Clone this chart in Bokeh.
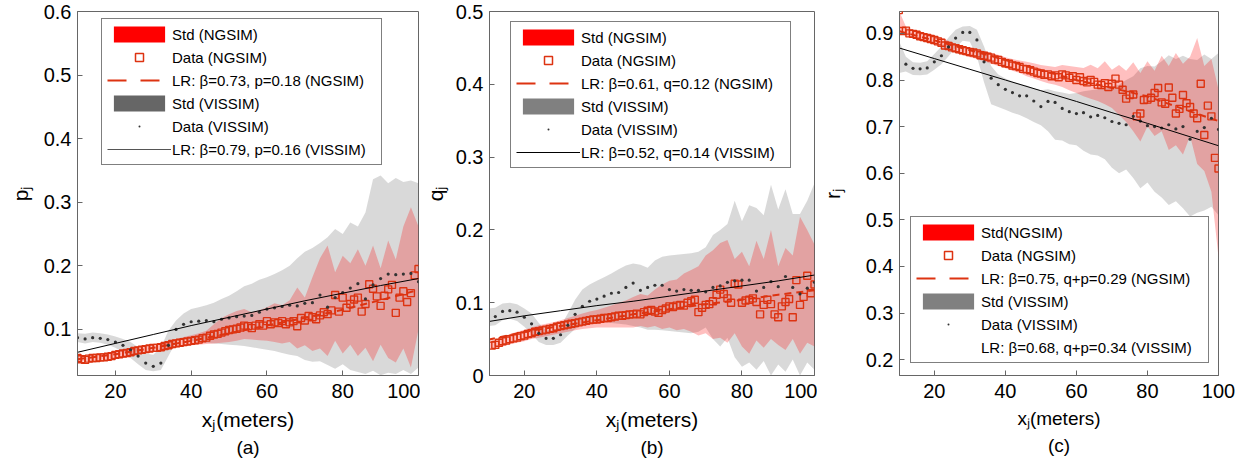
from bokeh.plotting import figure
from bokeh.layouts import row
from bokeh.models import Range1d, LinearAxis, FixedTicker, Legend, LegendItem, Title
from bokeh.embed import file_html
from bokeh.resources import INLINE

FONT = "Liberation Sans"
RED = "#FF0000"
MARK = "#DD3311"
DOT = "#333333"

# ---------------- shared x grids ----------------
X_BAND = list(range(10, 101, 2))          # std bands, 46 points
LR_X = [10, 20, 30, 40, 50, 60, 70, 80, 90, 100]

# ---------------- panel (a): p_j ----------------
X_A = list(range(10, 101))
NGSIM_A = [0.055, 0.053, 0.052, 0.054, 0.055, 0.055, 0.056, 0.056, 0.057, 0.058,
           0.060, 0.061, 0.062, 0.063, 0.064, 0.066, 0.067, 0.068, 0.069, 0.070,
           0.071, 0.071, 0.072, 0.074, 0.075, 0.077, 0.078, 0.079, 0.080, 0.081,
           0.082, 0.083, 0.084, 0.086, 0.087, 0.090, 0.092, 0.093, 0.095, 0.097,
           0.099, 0.100, 0.101, 0.103, 0.106, 0.105, 0.102, 0.106, 0.108, 0.106,
           0.113, 0.108, 0.111, 0.110, 0.113, 0.108, 0.111, 0.113, 0.105, 0.118,
           0.114, 0.121, 0.119, 0.116, 0.122, 0.127, 0.124, 0.130, 0.154, 0.128,
           0.150, 0.134, 0.140, 0.147, 0.150, 0.128, 0.140, 0.171, 0.164, 0.152,
           0.137, 0.153, 0.163, 0.170, 0.126, 0.150, 0.160, 0.143, 0.157, 0.185, 0.195]
NGSIM_LO_A = [0.051, 0.049, 0.051, 0.052, 0.053, 0.055, 0.057, 0.059, 0.061, 0.063,
              0.065, 0.066, 0.068, 0.071, 0.073, 0.075, 0.076, 0.077, 0.078, 0.079,
              0.080, 0.082, 0.085, 0.084, 0.083, 0.082, 0.080, 0.078, 0.080, 0.070,
              0.075, 0.066, 0.070, 0.058, 0.082, 0.062, 0.076, 0.058, 0.071, 0.050,
              0.076, 0.055, 0.048, 0.070, 0.040, 0.100]
NGSIM_HI_A = [0.059, 0.056, 0.058, 0.060, 0.062, 0.065, 0.067, 0.069, 0.072, 0.074,
              0.076, 0.078, 0.081, 0.085, 0.088, 0.091, 0.094, 0.098, 0.108, 0.118,
              0.124, 0.129, 0.132, 0.127, 0.130, 0.135, 0.141, 0.138, 0.146, 0.166,
              0.150, 0.182, 0.212, 0.232, 0.190, 0.216, 0.204, 0.226, 0.200, 0.232,
              0.196, 0.240, 0.210, 0.262, 0.292, 0.262]
X_DOT_A = list(range(10, 101, 2))
VISSIM_A = [0.087, 0.085, 0.087, 0.086, 0.084, 0.080, 0.075, 0.068, 0.058, 0.047,
            0.042, 0.047, 0.075, 0.100, 0.108, 0.112, 0.113, 0.114, 0.112, 0.116,
            0.118, 0.120, 0.121, 0.122, 0.127, 0.132, 0.134, 0.136, 0.138, 0.137,
            0.141, 0.142, 0.154, 0.135, 0.150, 0.158, 0.165, 0.172, 0.148, 0.170,
            0.180, 0.187, 0.186, 0.187, 0.188, 0.175]
VISSIM_LO_A = [0.080, 0.078, 0.080, 0.079, 0.076, 0.071, 0.064, 0.055, 0.045, 0.036,
               0.034, 0.036, 0.058, 0.080, 0.085, 0.082, 0.080, 0.079, 0.078, 0.077,
               0.076, 0.075, 0.074, 0.072, 0.070, 0.068, 0.066, 0.063, 0.060, 0.058,
               0.052, 0.049, 0.050, 0.044, 0.038, 0.045, 0.036, 0.033, 0.030, 0.035,
               0.028, 0.032, 0.030, 0.036, 0.030, 0.040]
VISSIM_HI_A = [0.094, 0.093, 0.095, 0.094, 0.092, 0.089, 0.085, 0.080, 0.072, 0.062,
               0.060, 0.072, 0.098, 0.114, 0.125, 0.132, 0.135, 0.138, 0.142, 0.148,
               0.153, 0.160, 0.168, 0.172, 0.178, 0.182, 0.187, 0.193, 0.200, 0.212,
               0.222, 0.228, 0.236, 0.245, 0.258, 0.250, 0.268, 0.262, 0.284, 0.336,
               0.342, 0.330, 0.338, 0.332, 0.334, 0.330]
LR_NGSIM_A = [0.053, 0.061, 0.071, 0.082, 0.094, 0.106, 0.118, 0.131, 0.146, 0.162]
LR_VISSIM_A = [0.064, 0.078, 0.092, 0.106, 0.119, 0.132, 0.145, 0.157, 0.169, 0.180]

# ---------------- panel (b): q_j ----------------
X_B = list(range(11, 101))
NGSIM_B = [0.041, 0.042, 0.045, 0.047, 0.048, 0.050, 0.051, 0.052, 0.054, 0.055,
           0.057, 0.058, 0.060, 0.061, 0.062, 0.063, 0.064, 0.065, 0.067, 0.068,
           0.069, 0.070, 0.071, 0.072, 0.073, 0.074, 0.075, 0.076, 0.077, 0.077,
           0.078, 0.079, 0.079, 0.080, 0.081, 0.082, 0.082, 0.083, 0.084, 0.084,
           0.085, 0.084, 0.087, 0.089, 0.090, 0.088, 0.086, 0.090, 0.092, 0.095,
           0.094, 0.096, 0.097, 0.096, 0.100, 0.102, 0.104, 0.087, 0.093, 0.097,
           0.098, 0.102, 0.111, 0.118, 0.112, 0.106, 0.100, 0.126, 0.125, 0.100,
           0.103, 0.104, 0.106, 0.101, 0.084, 0.097, 0.104, 0.098, 0.084, 0.080,
           0.095, 0.101, 0.105, 0.080, 0.131, 0.097, 0.108, 0.137, 0.113, 0.125]
NGSIM_LO_B = [0.036, 0.037, 0.040, 0.043, 0.045, 0.047, 0.050, 0.052, 0.054, 0.056,
              0.058, 0.060, 0.062, 0.064, 0.065, 0.066, 0.066, 0.066, 0.066, 0.066,
              0.066, 0.068, 0.066, 0.068, 0.064, 0.066, 0.062, 0.064, 0.060, 0.055,
              0.058, 0.050, 0.052, 0.045, 0.058, 0.040, 0.030, 0.048, 0.038, 0.050,
              0.042, 0.035, 0.050, 0.030, 0.045, 0.040]
NGSIM_HI_B = [0.046, 0.049, 0.053, 0.057, 0.060, 0.063, 0.066, 0.069, 0.071, 0.073,
              0.076, 0.079, 0.082, 0.085, 0.088, 0.090, 0.093, 0.096, 0.100, 0.103,
              0.108, 0.112, 0.110, 0.118, 0.125, 0.130, 0.132, 0.140, 0.145, 0.150,
              0.165, 0.172, 0.182, 0.186, 0.160, 0.170, 0.150, 0.185, 0.160, 0.200,
              0.150, 0.175, 0.165, 0.218, 0.200, 0.180]
X_DOT_B = list(range(12, 101, 2))
VISSIM_B = [0.081, 0.088, 0.089, 0.087, 0.080, 0.071, 0.058, 0.051, 0.051, 0.056,
            0.069, 0.084, 0.095, 0.102, 0.105, 0.109, 0.113, 0.114, 0.121, 0.127,
            0.117, 0.121, 0.124, 0.124, 0.118, 0.116, 0.118, 0.117, 0.117, 0.115,
            0.121, 0.123, 0.128, 0.130, 0.131, 0.131, 0.116, 0.121, 0.129, 0.122,
            0.136, 0.121, 0.112, 0.120, 0.128]
VISSIM_LO_B = [0.068, 0.069, 0.076, 0.078, 0.075, 0.067, 0.057, 0.046, 0.042, 0.042,
               0.045, 0.055, 0.064, 0.070, 0.072, 0.073, 0.073, 0.072, 0.071, 0.070,
               0.068, 0.066, 0.063, 0.063, 0.062, 0.061, 0.060, 0.059, 0.058, 0.060,
               0.066, 0.050, 0.040, 0.052, 0.025, 0.012, 0.018, 0.008, 0.020, 0.000,
               0.015, 0.005, 0.022, 0.000, 0.018, 0.008]
VISSIM_HI_B = [0.092, 0.093, 0.099, 0.100, 0.098, 0.092, 0.085, 0.072, 0.062, 0.062,
               0.068, 0.085, 0.104, 0.118, 0.125, 0.130, 0.135, 0.140, 0.146, 0.151,
               0.154, 0.152, 0.148, 0.158, 0.163, 0.165, 0.166, 0.167, 0.168, 0.170,
               0.176, 0.193, 0.200, 0.208, 0.240, 0.212, 0.234, 0.230, 0.220, 0.262,
               0.228, 0.256, 0.222, 0.222, 0.240, 0.264]
LR_NGSIM_B = [0.049, 0.060, 0.068, 0.076, 0.084, 0.091, 0.098, 0.104, 0.111, 0.117]
LR_VISSIM_B = [0.074, 0.082, 0.089, 0.096, 0.102, 0.109, 0.116, 0.123, 0.130, 0.138]

# ---------------- panel (c): r_j ----------------
X_C = list(range(10, 101))
NGSIM_C = [0.950, 0.905, 0.906, 0.900, 0.899, 0.897, 0.894, 0.892, 0.890, 0.888,
           0.886, 0.883, 0.880, 0.874, 0.873, 0.870, 0.868, 0.866, 0.864, 0.862,
           0.860, 0.859, 0.857, 0.853, 0.852, 0.850, 0.848, 0.844, 0.843, 0.839,
           0.836, 0.835, 0.831, 0.830, 0.828, 0.824, 0.823, 0.821, 0.818, 0.815,
           0.814, 0.811, 0.812, 0.808, 0.810, 0.806, 0.812, 0.810, 0.805, 0.808,
           0.800, 0.806, 0.798, 0.795, 0.800, 0.796, 0.790, 0.789, 0.793, 0.785,
           0.792, 0.803, 0.790, 0.779, 0.760, 0.768, 0.769, 0.722, 0.728, 0.757,
           0.758, 0.762, 0.772, 0.783, 0.752, 0.749, 0.784, 0.762, 0.728, 0.738,
           0.768, 0.750, 0.742, 0.728, 0.718, 0.792, 0.682, 0.745, 0.722, 0.633, 0.610]
NGSIM_LO_C = [0.900, 0.895, 0.890, 0.885, 0.881, 0.876, 0.871, 0.865, 0.859, 0.854,
              0.849, 0.845, 0.840, 0.835, 0.830, 0.825, 0.820, 0.815, 0.808, 0.803,
              0.798, 0.793, 0.790, 0.785, 0.778, 0.772, 0.765, 0.760, 0.755, 0.748,
              0.740, 0.725, 0.710, 0.690, 0.668, 0.700, 0.680, 0.690, 0.650, 0.660,
              0.640, 0.680, 0.620, 0.605, 0.560, 0.420]
NGSIM_HI_C = [0.950, 0.915, 0.908, 0.904, 0.900, 0.896, 0.891, 0.884, 0.878, 0.873,
              0.869, 0.866, 0.862, 0.858, 0.854, 0.849, 0.845, 0.842, 0.839, 0.836,
              0.832, 0.830, 0.828, 0.832, 0.830, 0.828, 0.826, 0.833, 0.825, 0.840,
              0.822, 0.832, 0.820, 0.838, 0.815, 0.840, 0.820, 0.852, 0.830, 0.858,
              0.835, 0.850, 0.890, 0.830, 0.845, 0.780]
X_DOT_C = list(range(12, 101, 2))
VISSIM_C = [0.834, 0.825, 0.824, 0.826, 0.839, 0.852, 0.871, 0.890, 0.902,
            0.902, 0.886, 0.839, 0.804, 0.790, 0.780, 0.773, 0.766, 0.766, 0.755,
            0.743, 0.754, 0.752, 0.739, 0.732, 0.728, 0.730, 0.721, 0.724, 0.719,
            0.711, 0.707, 0.704, 0.722, 0.712, 0.702, 0.700, 0.697, 0.704, 0.695,
            0.700, 0.673, 0.690, 0.698, 0.718, 0.694]
VISSIM_LO_C = [0.815, 0.818, 0.811, 0.810, 0.812, 0.822, 0.834, 0.851, 0.870, 0.884,
               0.882, 0.850, 0.795, 0.748, 0.742, 0.736, 0.730, 0.725, 0.718, 0.710,
               0.703, 0.690, 0.672, 0.670, 0.662, 0.660, 0.648, 0.640, 0.638, 0.630,
               0.612, 0.600, 0.608, 0.590, 0.568, 0.580, 0.560, 0.548, 0.532, 0.540,
               0.525, 0.507, 0.515, 0.520, 0.528, 0.510]
VISSIM_HI_C = [0.885, 0.850, 0.838, 0.837, 0.840, 0.856, 0.872, 0.891, 0.908, 0.915,
               0.916, 0.908, 0.872, 0.830, 0.812, 0.803, 0.797, 0.792, 0.788, 0.782,
               0.778, 0.780, 0.776, 0.773, 0.770, 0.772, 0.776, 0.778, 0.780, 0.782,
               0.786, 0.790, 0.800, 0.808, 0.825, 0.830, 0.829, 0.840, 0.853, 0.845,
               0.852, 0.845, 0.843, 0.855, 0.845, 0.858]
LR_NGSIM_C = [0.905, 0.885, 0.864, 0.843, 0.821, 0.800, 0.783, 0.765, 0.738, 0.712]
LR_VISSIM_C = [0.869, 0.846, 0.823, 0.800, 0.777, 0.754, 0.730, 0.707, 0.683, 0.659]

X_TICKS = [20, 40, 60, 80, 100]
Y_TICKS_A = [0.1, 0.2, 0.3, 0.4, 0.5, 0.6]
Y_TICKS_B = [0.0, 0.1, 0.2, 0.3, 0.4, 0.5]
Y_TICKS_C = [0.2, 0.3, 0.4, 0.5, 0.6, 0.7, 0.8, 0.9]

LEG_A = ["Std (NGSIM)", "Data (NGSIM)", "LR: \u03b2=0.73, p=0.18 (NGSIM)",
         "Std (VISSIM)", "Data (VISSIM)", "LR: \u03b2=0.79, p=0.16 (VISSIM)"]
LEG_B = ["Std (NGSIM)", "Data (NGSIM)", "LR: \u03b2=0.61, q=0.12 (NGSIM)",
         "Std (VISSIM)", "Data (VISSIM)", "LR: \u03b2=0.52, q=0.14 (VISSIM)"]
LEG_C = ["Std(NGSIM)", "Data (NGSIM)", "LR: \u03b2=0.75, q+p=0.29 (NGSIM)",
         "Std (VISSIM)", "Data (VISSIM)", "LR: \u03b2=0.68, q+p=0.34 (VISSIM)"]

PANELS = [
    dict(ox=0, width=420, frame=(77, 418, 11, 375), xr=(10, 100), yr=(0.0275, 0.6),
         yt=Y_TICKS_A, x=X_A, ng=NGSIM_A, nlo=NGSIM_LO_A, nhi=NGSIM_HI_A,
         xd=X_DOT_A, vs=VISSIM_A, vlo=VISSIM_LO_A, vhi=VISSIM_HI_A,
         lrn=LR_NGSIM_A, lrv=LR_VISSIM_A, leg=LEG_A, legloc=(24, 210), labw=204,
         leg_gray="#666666", leg_lr="#555555",
         ylabel="p\u2c7c", ystand=9, xfont="21px", tag="(a)"),
    dict(ox=420, width=397, frame=(487, 814, 11, 375), xr=(10.4, 100), yr=(0.0, 0.5),
         yt=Y_TICKS_B, x=X_B, ng=NGSIM_B, nlo=NGSIM_LO_B, nhi=NGSIM_HI_B,
         xd=X_DOT_B, vs=VISSIM_B, vlo=VISSIM_LO_B, vhi=VISSIM_HI_B,
         lrn=LR_NGSIM_B, lrv=LR_VISSIM_B, leg=LEG_B, legloc=(21, 207), labw=204,
         leg_gray="#808080", leg_lr="#000000",
         ylabel="q\u2c7c", ystand=6, xfont="21px", tag="(b)"),
    dict(ox=817, width=429, frame=(897, 1218, 11, 375), xr=(10.2, 100), yr=(0.166, 0.947),
         yt=Y_TICKS_C, x=X_C, ng=NGSIM_C, nlo=NGSIM_LO_C, nhi=NGSIM_HI_C,
         xd=X_DOT_C, vs=VISSIM_C, vlo=VISSIM_LO_C, vhi=VISSIM_HI_C,
         lrn=LR_NGSIM_C, lrv=LR_VISSIM_C, leg=LEG_C, legloc=(11, 12), labw=222,
         leg_gray="#808080", leg_lr=None,
         ylabel="r\u2c7c", ystand=19, xfont="19px", tag="(c)"),
]


def make_axis(ticks, standoff, label, label_standoff, label_size):
    return LinearAxis(ticker=FixedTicker(ticks=ticks), axis_line_color="#666666",
                      major_tick_line_color="#666666", major_tick_in=5, major_tick_out=0,
                      minor_tick_line_color=None, major_label_standoff=standoff,
                      major_label_text_font=FONT, major_label_text_font_size="20px",
                      major_label_text_color="black",
                      axis_label=label, axis_label_standoff=label_standoff,
                      axis_label_text_font=FONT, axis_label_text_font_size=label_size,
                      axis_label_text_font_style="normal", axis_label_text_color="black")


def build(cfg):
    fl, fr, ft, fb = cfg["frame"]
    W = cfg["width"]
    p = figure(width=W, height=465, x_range=Range1d(*cfg["xr"]), y_range=Range1d(*cfg["yr"]),
               output_backend="svg", toolbar_location=None,
               x_axis_type=None, y_axis_type=None,
               min_border_left=fl - cfg["ox"], min_border_right=cfg["ox"] + W - fr,
               min_border_top=ft, min_border_bottom=465 - fb)
    p.outline_line_color = "#666666"
    p.outline_line_width = 1
    p.xgrid.visible = False
    p.ygrid.visible = False
    p.background_fill_color = "white"
    p.border_fill_color = "white"

    bottom = make_axis(X_TICKS, 8, "x\u2c7c(meters)", 7, cfg["xfont"])
    left = make_axis(cfg["yt"], 6, cfg["ylabel"], cfg["ystand"], "21px")
    if cfg["yt"][0] == 0.0:
        left.major_label_overrides = {0: "0"}
    p.add_layout(bottom, "below")
    p.add_layout(left, "left")
    p.add_layout(Title(text=cfg["tag"], align="center", text_font=FONT,
                       text_font_size="19px", text_font_style="normal",
                       text_color="black", standoff=2), "below")

    # data
    p.varea(x=X_BAND, y1=cfg["vlo"], y2=cfg["vhi"], fill_color="#666666", fill_alpha=0.25)
    p.varea(x=X_BAND, y1=cfg["nlo"], y2=cfg["nhi"], fill_color=RED, fill_alpha=0.25)
    p.scatter(x=cfg["x"], y=cfg["ng"], marker="square", size=7, fill_color=None,
              line_color=MARK, line_width=1.4)
    p.line(x=LR_X, y=cfg["lrn"], line_color=MARK, line_width=2, line_dash="7 5")
    p.scatter(x=cfg["xd"], y=cfg["vs"], marker="circle", size=3.2, fill_color=DOT,
              line_color=None)
    p.line(x=LR_X, y=cfg["lrv"], line_color="black", line_width=1)

    # legend proxies: same data, hidden in the plot, full-strength styling in the legend
    r1 = p.varea(x=X_BAND, y1=cfg["nlo"], y2=cfg["nhi"], fill_color=RED, visible=False)
    r2 = p.scatter(x=cfg["x"], y=cfg["ng"], marker="square", size=5, fill_color=None,
                   line_color=MARK, line_width=1.5, visible=False)
    r3 = p.line(x=LR_X, y=cfg["lrn"], line_color=MARK, line_width=2, line_dash="19 14",
                visible=False)
    r4 = p.varea(x=X_BAND, y1=cfg["vlo"], y2=cfg["vhi"], fill_color=cfg["leg_gray"],
                 visible=False)
    r5 = p.scatter(x=cfg["xd"], y=cfg["vs"], marker="dot", size=8, fill_color=DOT,
                   line_color=DOT, visible=False)
    if cfg["leg_lr"] is None:
        r6 = p.line(x=LR_X, y=cfg["lrv"], line_alpha=0, visible=False)
    else:
        r6 = p.line(x=LR_X, y=cfg["lrv"], line_color=cfg["leg_lr"], line_width=1,
                    visible=False)
    items = [LegendItem(label=t, renderers=[r]) for t, r in zip(cfg["leg"], [r1, r2, r3, r4, r5, r6])]
    leg = Legend(items=items, location=cfg["legloc"], border_line_color="black",
                 border_line_width=1, background_fill_color="white", background_fill_alpha=1,
                 label_text_font=FONT, label_text_font_size="15px", label_text_color="black",
                 glyph_width=64, glyph_height=20, label_height=17, label_width=cfg["labw"],
                 spacing=3, padding=5, margin=0, label_standoff=1, click_policy="none")
    p.add_layout(leg)
    return p


figs = [build(c) for c in PANELS]
layout = row(*figs)
open("out.html", "w").write(file_html(layout, INLINE))
